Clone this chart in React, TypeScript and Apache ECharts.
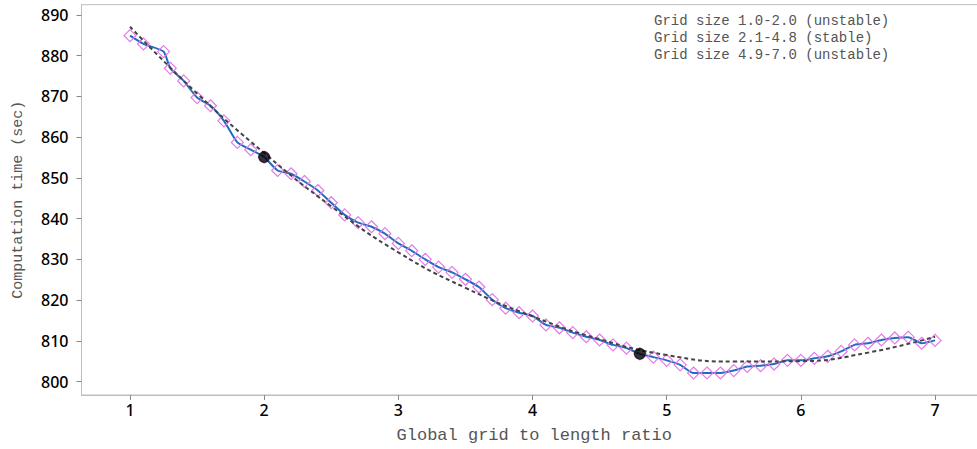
import React, { useEffect, useRef } from "react";
import * as echarts from "echarts";

const xValues = [1.0, 1.1, 1.25, 1.3, 1.4, 1.5, 1.6, 1.7, 1.8, 1.9, 2.0, 2.1, 2.2, 2.3, 2.4, 2.5, 2.6, 2.7, 2.8, 2.9, 3.0, 3.1, 3.2, 3.3, 3.4, 3.5, 3.6, 3.7, 3.8, 3.9, 4.0, 4.1, 4.2, 4.3, 4.4, 4.5, 4.6, 4.7, 4.8, 4.9, 5.0, 5.1, 5.2, 5.3, 5.4, 5.5, 5.6, 5.7, 5.8, 5.9, 6.0, 6.1, 6.2, 6.3, 6.4, 6.5, 6.6, 6.7, 6.8, 6.9, 7.0];
const timeValues = [884.9, 882.9, 881.0, 876.9, 873.8, 869.7, 867.7, 864.0, 858.7, 856.9, 855.1, 851.8, 851.0, 849.1, 846.9, 843.9, 840.9, 839.0, 838.0, 836.3, 833.9, 832.1, 830.0, 828.1, 826.8, 825.1, 823.2, 820.1, 818.0, 816.9, 816.1, 813.9, 813.2, 812.0, 811.0, 810.2, 809.0, 808.2, 806.8, 806.0, 805.2, 804.1, 802.1, 802.1, 802.1, 802.7, 803.7, 803.9, 804.3, 805.2, 805.2, 805.7, 806.2, 807.4, 809.0, 809.4, 810.2, 810.7, 810.9, 809.4, 810.1];

const fitX = [1.0, 1.5, 2.0, 2.5, 3.0, 3.5, 4.0, 4.5, 5.0, 5.5, 6.0, 6.5, 7.0];
const fitY = [887.1, 870.7, 856.1, 843.0, 831.7, 823.0, 816.0, 810.4, 806.5, 804.9, 805.0, 807.1, 811.0];

const boundaryX = [2.0, 4.8];
const boundaryY = [855.1, 806.8];

const xTicks = [1, 2, 3, 4, 5, 6, 7];
const yTicks = [800, 810, 820, 830, 840, 850, 860, 870, 880, 890];

const legendLines = [
  "Grid size 1.0-2.0 (unstable)",
  "Grid size 2.1-4.8 (stable)",
  "Grid size 4.9-7.0 (unstable)",
];

export default function App() {
  const ref = useRef<HTMLDivElement>(null);
  useEffect(() => {
    if (!ref.current) return;
    const chart = echarts.init(ref.current, undefined, { renderer: "svg" });
    const titleFont = '"Liberation Mono", "DejaVu Sans Mono", monospace';
    chart.setOption({
      animation: false,
      backgroundColor: "#ffffff",
      grid: {
        left: 81.5,
        top: 4.7,
        bottom: 54,
        right: -10,
        show: true,
        borderColor: "#bdbdbd",
        borderWidth: 1,
        outerBoundsMode: "none",
        containLabel: false,
      },
      xAxis: {
        type: "value",
        min: 0.6385,
        max: 7.387,
        name: "Global grid to length ratio",
        nameLocation: "middle",
        nameGap: 32,
        nameTextStyle: { fontFamily: titleFont, fontSize: 17, color: "#555" },
        axisLine: { show: true, lineStyle: { color: "#bdbdbd" } },
        axisTick: { show: true, customValues: xTicks, length: 5, lineStyle: { color: "#888" } },
        axisLabel: {
          customValues: xTicks,
          margin: 7,
          fontFamily: "Noto Sans",
          fontSize: 16,
          fontWeight: 500,
          color: "#000",
        },
        splitLine: { show: false },
      },
      yAxis: {
        type: "value",
        min: 796.7,
        max: 892.5,
        name: "Computation time (sec)",
        nameLocation: "middle",
        nameGap: 56,
        nameTextStyle: { fontFamily: titleFont, fontSize: 15, color: "#555" },
        axisLine: { show: true, lineStyle: { color: "#bdbdbd" } },
        axisTick: { show: true, customValues: yTicks, length: 5, lineStyle: { color: "#888" } },
        axisLabel: {
          customValues: yTicks,
          margin: 13,
          fontFamily: "Noto Sans",
          fontSize: 16,
          fontWeight: 500,
          color: "#000",
        },
        splitLine: { show: false },
      },
      graphic: legendLines.map((t, i) => ({
        type: "text",
        left: 654,
        top: 14 + i * 17,
        style: {
          text: t,
          fontFamily: titleFont,
          fontSize: 14,
          fill: "#555",
        },
      })),
      series: [
        {
          type: "line",
          data: xValues.map((x, i) => [x, timeValues[i]]),
          smooth: 0.2,
          symbol: "diamond",
          symbolSize: 12,
          showSymbol: true,
          lineStyle: { color: "#1f6cc0", width: 2 },
          itemStyle: { color: "rgba(0,0,0,0)", borderColor: "#e67ae8", borderWidth: 1.2 },
          z: 2,
        },
        {
          type: "line",
          data: fitX.map((x, i) => [x, fitY[i]]),
          smooth: 0.5,
          showSymbol: false,
          symbol: "none",
          lineStyle: { color: "#444", width: 2, type: [4, 3] },
          z: 3,
        },
        {
          type: "scatter",
          data: boundaryX.map((x, i) => [x, boundaryY[i]]),
          symbol: "circle",
          symbolSize: 12,
          itemStyle: { color: "#000" },
          z: 4,
        },
      ],
    });
    return () => chart.dispose();
  }, []);
  return (
    <div
      ref={ref}
      style={{ position: "fixed", left: 0, top: 0, width: 977, height: 449 }}
    />
  );
}
